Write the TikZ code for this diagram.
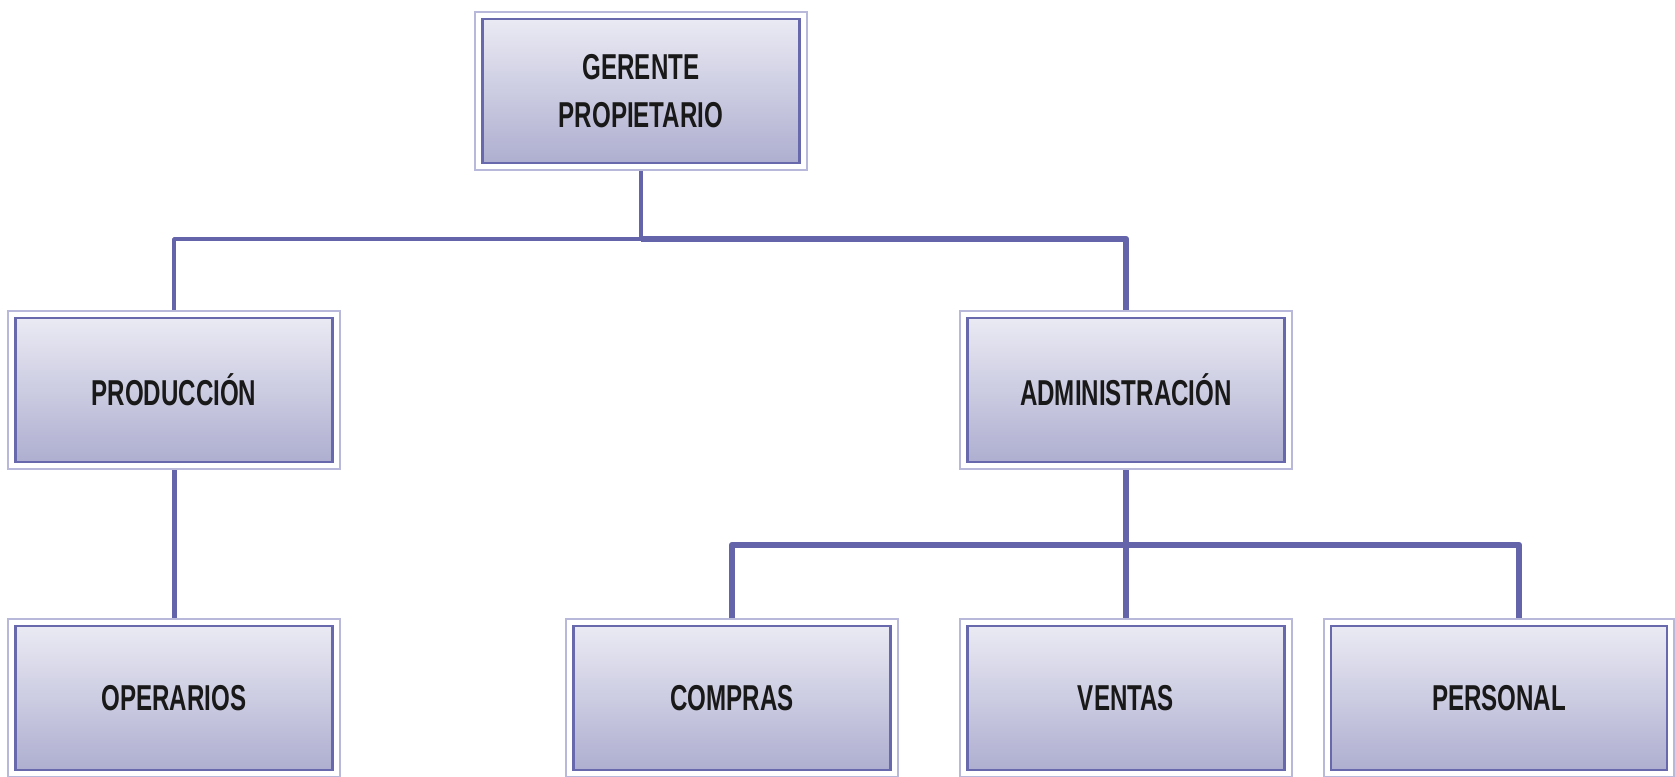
\documentclass[tikz,border=0pt]{standalone}
\usepackage{fontspec}
\setmainfont[FakeStretch=0.67]{Liberation Sans}
\definecolor{boxline}{RGB}{104,104,172}
\definecolor{framecol}{RGB}{184,184,218}
\definecolor{boxtop}{RGB}{234,234,244}
\definecolor{boxbot}{RGB}{174,174,208}
\definecolor{linecol}{RGB}{100,100,170}
\pgfdeclarelayer{bg}
\pgfdeclarelayer{mid}
\pgfsetlayers{bg,mid,main}
\begin{document}
\begin{tikzpicture}[x=1pt,y=-1pt,
  box/.style={draw=boxline, line width=2.8pt, top color=boxtop, bottom color=boxbot,
    inner sep=0pt, minimum height=144pt, minimum width=317pt, align=center,
    font=\fontsize{36}{48}\selectfont\bfseries, text=black!90},
  framebox/.style={draw=framecol, line width=2pt, fill=white},
  conn/.style={draw=linecol, line join=round},
  thinconn/.style={conn, line width=3.5pt},
  medconn/.style={conn, line width=4.5pt},
  thickconn/.style={conn, line width=6.5pt}]
\useasboundingbox (0,0) rectangle (1675,776);
% boxes
\node[box] (ger) at (641,91) {GERENTE\\PROPIETARIO};
\node[box] (prod) at (174,390) {PRODUCCIÓN};
\node[box] (adm) at (1126,390) {ADMINISTRACIÓN};
\node[box] (oper) at (174,698) {OPERARIOS};
\node[box] (comp) at (732,698) {COMPRAS};
\node[box] (vent) at (1126,698) {VENTAS};
\node[box, minimum width=336pt] (pers) at (1499,698) {PERSONAL};
% outer frames
\begin{pgfonlayer}{mid}
\foreach \n in {ger,prod,adm,oper,comp,vent,pers}
  \draw[framebox] ([shift={(-6pt,6pt)}]\n.north west) rectangle ([shift={(6pt,-6pt)}]\n.south east);
\end{pgfonlayer}
% connectors
\coordinate (j1) at (641,239);
\coordinate (j2) at (1126,545);
\coordinate (pj) at (1519,545);
\begin{pgfonlayer}{bg}
\draw[medconn] (ger.south) -- (j1);
\draw[thinconn] (j1) -| (prod.north);
\draw[thickconn] (j1) -| (adm.north);
\draw[medconn, line width=5pt] (prod.south) -- (oper.north);
\draw[thickconn] (adm.south) -- (j2);
\draw[thickconn] (j2) -| (comp.north);
\draw[thickconn] (j2) -- (vent.north);
\draw[thickconn] (j2) -- (pj) -- (pj |- pers.north);
\end{pgfonlayer}
\end{tikzpicture}
\end{document}
